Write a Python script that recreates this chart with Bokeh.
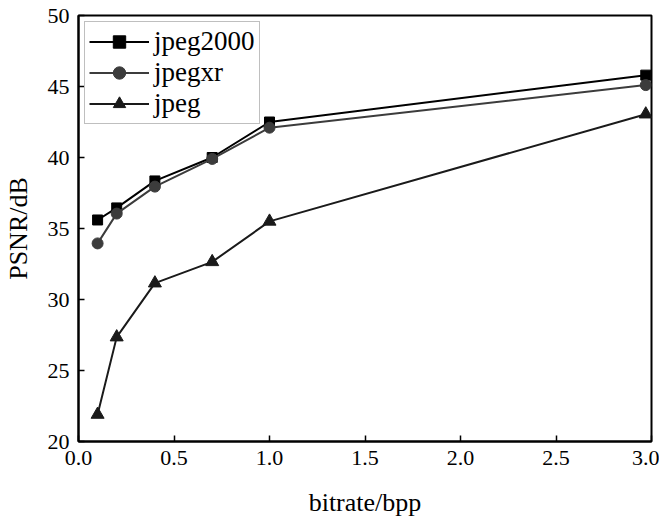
from bokeh.plotting import figure
from bokeh.models import Range1d, FixedTicker
from bokeh.embed import file_html
from bokeh.resources import INLINE

bitrate = [0.1, 0.2, 0.4, 0.7, 1.0, 2.97]
jpeg2000 = [35.6, 36.45, 38.35, 40.0, 42.5, 45.8]
jpegxr = [33.95, 36.05, 37.95, 39.9, 42.1, 45.1]
jpeg = [21.9, 27.35, 31.15, 32.65, 35.5, 43.05]

x_ticks = [0.0, 0.5, 1.0, 1.5, 2.0, 2.5, 3.0]
y_ticks = [20, 25, 30, 35, 40, 45, 50]

FONT = "Liberation Serif"

p = figure(output_backend="svg", toolbar_location=None,
           frame_width=573, frame_height=426,
           x_range=Range1d(0, 3.0), y_range=Range1d(20, 50),
           min_border_left=77, min_border_top=15, min_border_right=8, min_border_bottom=70,
           x_axis_label="bitrate/bpp", y_axis_label="PSNR/dB")

p.grid.visible = False
p.outline_line_color = "black"
p.outline_line_width = 2
p.background_fill_color = "white"
p.border_fill_color = "white"

for ax in (p.xaxis[0], p.yaxis[0]):
    ax.major_tick_in = 6
    ax.major_tick_out = 0
    ax.minor_tick_line_color = None
    ax.axis_line_width = 2
    ax.major_tick_line_width = 1.5
    ax.major_label_text_font = FONT
    ax.major_label_text_font_size = "22px"
    ax.major_label_text_color = "black"
    ax.major_label_standoff = 9
    ax.axis_label_text_font = FONT
    ax.axis_label_text_font_size = "26px"
    ax.axis_label_text_font_style = "normal"
    ax.axis_label_text_color = "black"

p.xaxis[0].ticker = FixedTicker(ticks=x_ticks)
p.yaxis[0].ticker = FixedTicker(ticks=y_ticks)
p.xaxis[0].major_label_overrides = {t: f"{t:.1f}" for t in x_ticks}
p.xaxis[0].axis_label_standoff = 20
p.yaxis[0].axis_label_standoff = 12

series = [
    ("jpeg2000", jpeg2000, "#000000", "square", 10),
    ("jpegxr", jpegxr, "#3c3c3c", "circle", 11),
    ("jpeg", jpeg, "#1a1a1a", "triangle", 13),
]
for name, vals, col, mk, sz in series:
    p.line(bitrate, vals, line_color=col, line_width=2, legend_label=name)
    p.scatter(bitrate, vals, marker=mk, size=sz, fill_color=col, line_color=col,
              legend_label=name)

lg = p.legend[0]
lg.location = "top_left"
lg.margin = 6
lg.padding = 4
lg.spacing = 0
lg.label_text_font = FONT
lg.label_text_font_size = "27px"
lg.label_text_color = "black"
lg.label_standoff = 5
lg.glyph_width = 60
lg.glyph_height = 31
lg.label_height = 31
lg.border_line_color = "#808080"
lg.border_line_width = 1.5
lg.background_fill_alpha = 1.0

open("out.html", "w").write(file_html(p, INLINE))
